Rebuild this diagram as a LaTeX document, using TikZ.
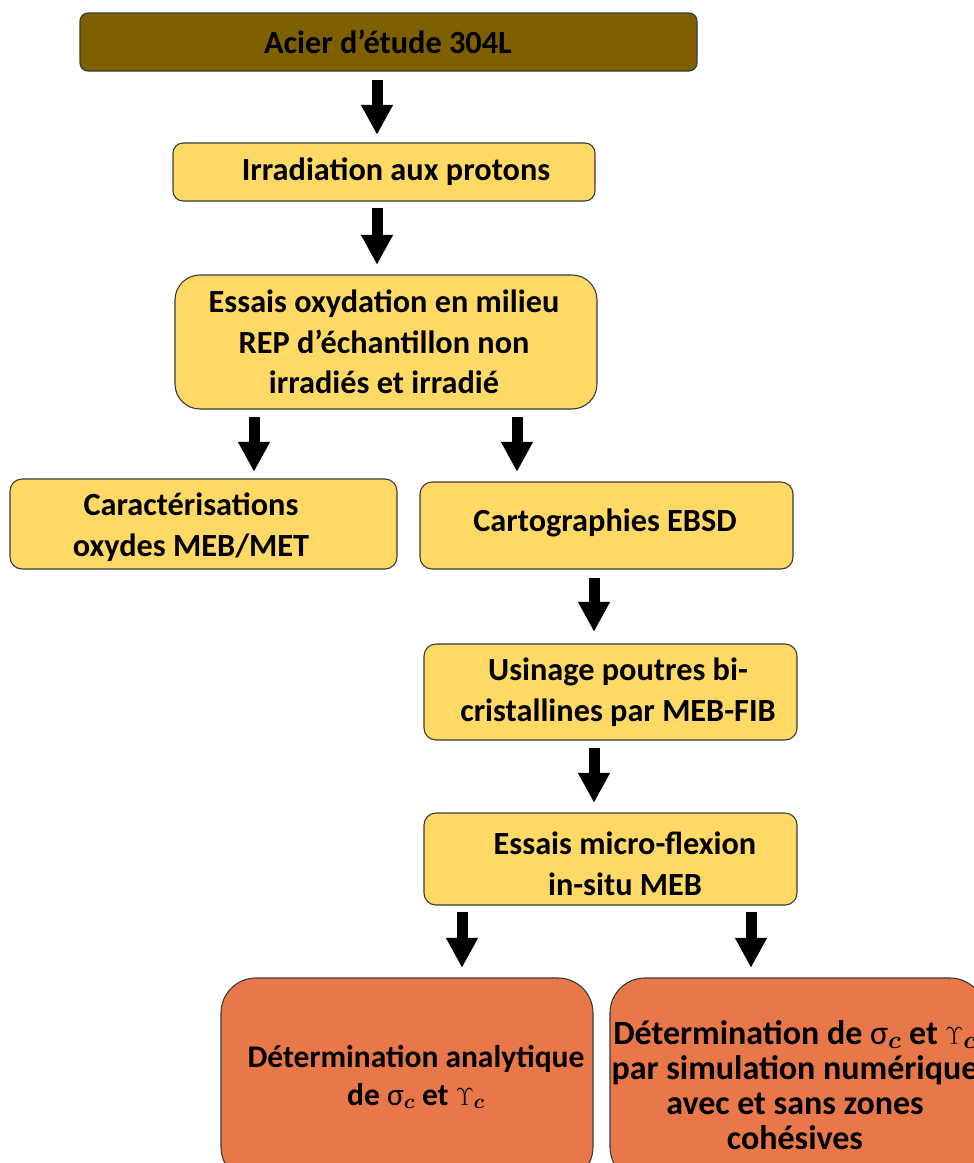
\documentclass[tikz,border=0pt]{standalone}
\usepackage{fontspec}
\usepackage{bm}
\setmainfont{Carlito}
\usetikzlibrary{arrows.meta}
\definecolor{brownbox}{HTML}{7F6000}
\definecolor{yellowbox}{HTML}{FFD966}
\definecolor{orangebox}{HTML}{E8784A}
\definecolor{edge}{HTML}{3A3A3A}
\newcommand{\sigc}{{\mdseries σ}$_{\bm{c}}$}
\newcommand{\upsc}{$\Upsilon_{\bm{c}}$}
\begin{document}
\begin{tikzpicture}[x=1pt,y=-1pt,
  box/.style={draw=edge,line width=1.1pt,fill=yellowbox},
  lbl/.style={font=\fontsize{32.3}{40.5}\selectfont\bfseries,align=center,inner sep=0pt},
  biglbl/.style={font=\fontsize{34}{35}\selectfont\bfseries,align=center,inner sep=0pt},
  bigarrow/.style={line width=11pt,-{Triangle[width=30pt,length=30pt]},black}]
\useasboundingbox (0,0) rectangle (974,1163);
\clip (0,0) rectangle (974,1163);
\fill[white] (0,0) rectangle (974,1163);

% boxes
\draw[box,fill=brownbox,rounded corners=8pt] (80,13) rectangle (697,71);
\node[inner sep=0pt,minimum width=617pt,minimum height=58pt] (A) at (388.5,42) {};
\node[lbl] (tA) at (388,42) {Acier d’étude 304L};

\draw[box,rounded corners=10pt] (173,143) rectangle (595,201);
\node[inner sep=0pt,minimum width=422pt,minimum height=58pt] (B) at (384,172) {};
\node[lbl] (tB) at (396,172) {Irradiation aux protons};

\draw[box,rounded corners=25pt] (175,275) rectangle (597,409);
\node[inner sep=0pt,minimum width=422pt,minimum height=134pt] (C) at (386,342) {};
\node[lbl] (tC) at (384,342) {Essais oxydation en milieu\\REP d’échantillon non\\irradiés et irradié};

\draw[box,rounded corners=12pt] (10,479) rectangle (397,569);
\node[inner sep=0pt,minimum width=387pt,minimum height=90pt] (D) at (203.5,524) {};
\node[lbl] (tD) at (191,527) {Caractérisations\\oxydes MEB/MET};

\draw[box,rounded corners=12pt] (420,482) rectangle (793,569);
\node[inner sep=0pt,minimum width=373pt,minimum height=87pt] (E) at (606.5,525.5) {};
\node[lbl] (tE) at (605,523) {Cartographies EBSD};

\draw[box,rounded corners=12pt] (424,644) rectangle (797,740);
\node[inner sep=0pt,minimum width=373pt,minimum height=96pt] (F) at (610.5,692) {};
\node[lbl] (tF) at (618,692) {Usinage poutres bi-\\cristallines par MEB-FIB};

\draw[box,rounded corners=12pt] (424,813) rectangle (797,905);
\node[inner sep=0pt,minimum width=373pt,minimum height=92pt] (G) at (610.5,859) {};
\node[lbl] (tG) at (625,864) {Essais micro-flexion\\in-situ MEB};

\draw[box,fill=orangebox,rounded corners=35pt] (221,978) rectangle (593,1182);
\node[inner sep=0pt,minimum width=372pt,minimum height=204pt] (H) at (407,1080) {};
\node[lbl,font=\fontsize{31.5}{38}\selectfont\bfseries] (tH) at (416,1077) {Détermination analytique\\de \sigc{} et \upsc};

\draw[box,fill=orangebox,rounded corners=35pt] (610,978) rectangle (985,1182);
\node[inner sep=0pt,minimum width=375pt,minimum height=204pt] (I) at (797.5,1080) {};
\node[biglbl] (tI) at (795,1085) {Détermination de \sigc{} et \upsc\\par simulation numérique\\avec et sans zones\\cohésives};

% arrows
\draw[bigarrow,shorten <=9pt,shorten >=8pt] (377,0 |- A.south) -- (377,0 |- B.north);
\draw[bigarrow,shorten <=7pt,shorten >=10pt] (377,0 |- B.south) -- (377,0 |- C.north);
\draw[bigarrow,shorten <=8pt,shorten >=7pt] (254,0 |- C.south) -- (254,0 |- D.north);
\draw[bigarrow,shorten <=8pt,shorten >=10pt] (517,0 |- C.south) -- (517,0 |- E.north);
\draw[bigarrow,shorten <=9pt,shorten >=12pt] (594,0 |- E.south) -- (594,0 |- F.north);
\draw[bigarrow,shorten <=8pt,shorten >=10pt] (594,0 |- F.south) -- (594,0 |- G.north);
\draw[bigarrow,shorten <=7pt,shorten >=10pt] (462,0 |- G.south) -- (462,0 |- H.north);
\draw[bigarrow,shorten <=7pt,shorten >=10pt] (751,0 |- G.south) -- (751,0 |- I.north);
\end{tikzpicture}
\end{document}
